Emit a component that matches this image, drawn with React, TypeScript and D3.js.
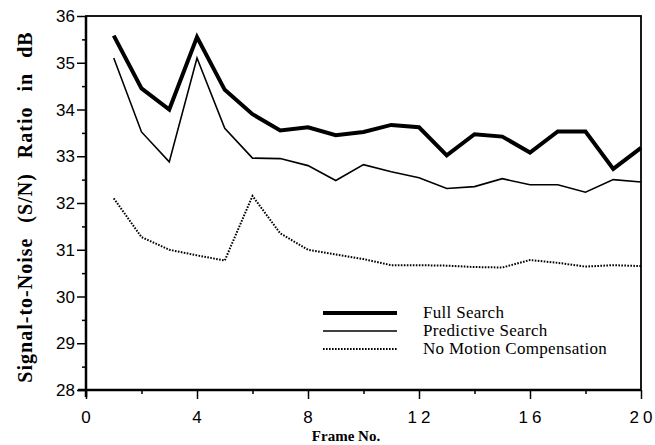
import React, { useEffect, useRef } from "react";
import * as d3 from "d3";

const frames = [1, 2, 3, 4, 5, 6, 7, 8, 9, 10, 11, 12, 13, 14, 15, 16, 17, 18, 19, 20];
const fullSearch = [35.58, 34.45, 34.0, 35.55, 34.42, 33.9, 33.55, 33.62, 33.45, 33.52, 33.67, 33.62, 33.02, 33.47, 33.42, 33.08, 33.53, 33.53, 32.73, 33.18];
const predictiveSearch = [35.1, 33.52, 32.88, 35.1, 33.6, 32.96, 32.95, 32.8, 32.48, 32.82, 32.67, 32.54, 32.31, 32.35, 32.52, 32.39, 32.39, 32.23, 32.5, 32.45];
const noMotion = [32.1, 31.27, 31.0, 30.88, 30.77, 32.15, 31.35, 31.0, 30.9, 30.8, 30.67, 30.67, 30.66, 30.63, 30.62, 30.78, 30.72, 30.64, 30.67, 30.65];
const xTickLabels = [0, 4, 8, 12, 16, 20];
const yTickLabels = [28, 29, 30, 31, 32, 33, 34, 35, 36];
const legendNames = ["Full Search", "Predictive Search", "No Motion Compensation"];

const serif = "'Liberation Serif', 'Times New Roman', serif";
const sans = "'Liberation Sans', Arial, sans-serif";

const App = () => {
  const ref: any = useRef();
  const width = 655;
  const height = 445;

  useEffect(() => {
    const svg = d3.select(ref.current);
    svg.selectAll("*").remove();

    const xScale = d3.scaleLinear().domain([0, 20]).range([86, 641]);
    const yScale = d3.scaleLinear().domain([28, 36]).range([390, 16]);

    // frame: top and right borders
    svg
      .append("rect")
      .attr("x", xScale(0))
      .attr("y", yScale(36))
      .attr("width", xScale(20) - xScale(0))
      .attr("height", yScale(28) - yScale(36))
      .attr("fill", "none")
      .attr("stroke", "#000")
      .attr("stroke-width", 1.8);

    // left axis
    const yAxis = d3
      .axisLeft(yScale)
      .tickValues(d3.range(28, 36.01, 0.5))
      .tickSize(0)
      .tickFormat(() => "");
    const yAxisGroup = svg
      .append("g")
      .attr("transform", `translate(${xScale(0)},0)`)
      .call(yAxis);
    yAxisGroup.select(".domain").attr("stroke-width", 2.5).attr("d", `M0,${yScale(36)}V${yScale(28) + 7}`);
    yAxisGroup
      .selectAll(".tick line")
      .attr("x2", (d: any) => (Number.isInteger(d) ? -9 : -4))
      .attr("stroke-width", 1.5);

    yTickLabels.forEach((v) => {
      svg
        .append("text")
        .attr("x", 75)
        .attr("y", yScale(v) + 6)
        .attr("text-anchor", "end")
        .attr("font-family", sans)
        .attr("font-size", 17)
        .text(v);
    });

    // bottom axis
    const xAxis = d3
      .axisBottom(xScale)
      .tickValues(d3.range(0, 21, 2))
      .tickSize(0)
      .tickFormat(() => "");
    const xAxisGroup = svg
      .append("g")
      .attr("transform", `translate(0,${yScale(28)})`)
      .call(xAxis);
    xAxisGroup.select(".domain").attr("stroke-width", 2.5).attr("d", `M${xScale(0) - 8},0H${xScale(20)}`);
    xAxisGroup
      .selectAll(".tick line")
      .attr("y2", (d: any) => (d % 4 === 0 ? 9 : 4))
      .attr("stroke-width", 1.5);

    xTickLabels.forEach((v) => {
      svg
        .append("text")
        .attr("x", xScale(v) + (v >= 10 ? 2 : 0))
        .attr("y", yScale(28) + 33)
        .attr("text-anchor", "middle")
        .attr("font-family", sans)
        .attr("font-size", 17)
        .attr("letter-spacing", v >= 10 ? 4 : 0)
        .text(v);
    });

    // axis titles
    svg
      .append("text")
      .attr("x", 346)
      .attr("y", 441)
      .attr("text-anchor", "middle")
      .attr("font-family", serif)
      .attr("font-weight", "bold")
      .attr("font-size", 15)
      .text("Frame No.");

    svg
      .append("text")
      .attr("transform", `translate(32,${207}) rotate(-90)`)
      .attr("text-anchor", "middle")
      .attr("font-family", serif)
      .attr("font-weight", "bold")
      .attr("font-size", 20)
      .attr("letter-spacing", 1)
      .attr("word-spacing", 9)
      .text("Signal-to-Noise (S/N) Ratio in dB");

    // series
    const series = [
      { name: legendNames[0], values: fullSearch, width: 4, dash: "" },
      { name: legendNames[1], values: predictiveSearch, width: 1.6, dash: "" },
      { name: legendNames[2], values: noMotion, width: 2, dash: "1.6,1.4" },
    ];

    const line = d3
      .line<number>()
      .x((_, i) => xScale(frames[i]))
      .y((d) => yScale(d));

    series.forEach((s) => {
      svg
        .append("path")
        .datum(s.values)
        .attr("d", line)
        .attr("fill", "none")
        .attr("stroke", "#000")
        .attr("stroke-width", s.width)
        .attr("stroke-linejoin", "miter")
        .attr("stroke-dasharray", s.dash);
    });

    // legend
    const legend = svg.append("g").attr("transform", "translate(323,313)");
    series.forEach((s, i) => {
      legend
        .append("line")
        .attr("x1", 0)
        .attr("x2", 74)
        .attr("y1", i * 18)
        .attr("y2", i * 18)
        .attr("stroke", "#000")
        .attr("stroke-width", s.width)
        .attr("stroke-dasharray", s.dash);
      legend
        .append("text")
        .attr("x", 100)
        .attr("y", i * 18 + 5)
        .attr("font-family", serif)
        .attr("font-size", 17)
        .attr("letter-spacing", 0.3)
        .text(s.name);
    });
  }, []);

  return (
    <div className="chart" style={{ position: "absolute", left: 0, top: 0 }}>
      <svg ref={ref} width={width} height={height} style={{ background: "#fff" }}></svg>
    </div>
  );
};

export default App;
